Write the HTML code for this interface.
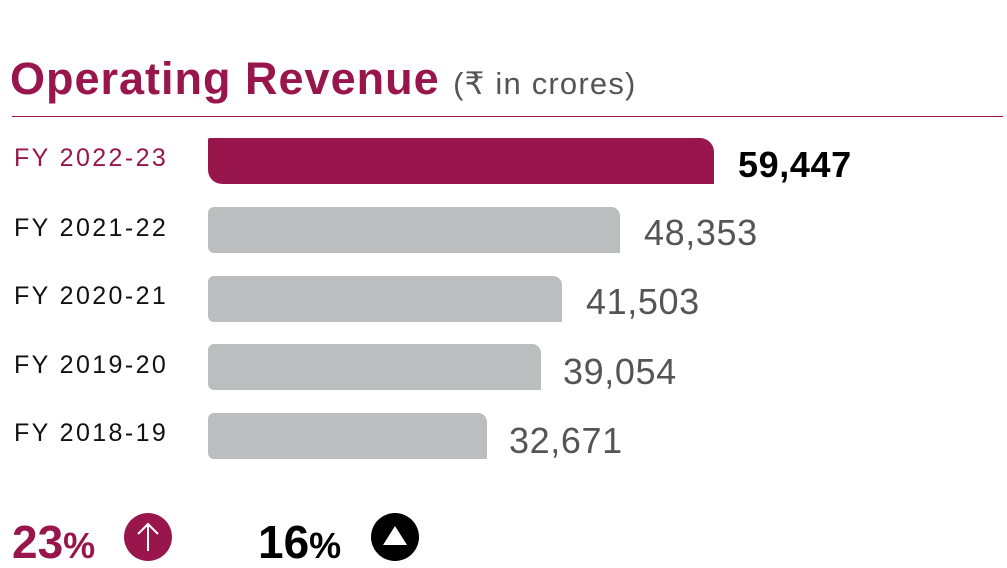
<!DOCTYPE html>
<html><head><meta charset="utf-8"><style>
body{margin:0;width:1007px;height:563px;background:#fff;overflow:hidden;position:relative;font-family:"Liberation Sans",sans-serif}
.a{position:absolute;white-space:nowrap}
.bar{position:absolute;left:208px;height:46px;background:#bcbdbf;border-radius:6px 9px 0 6px}
.lab{position:absolute;left:14px;font-size:25px;color:#111;line-height:1;letter-spacing:2.4px}
.val{position:absolute;font-size:36px;color:#555;line-height:1;letter-spacing:0.6px}
</style></head><body>
<div class="a" style="left:10px;top:56px;font-size:45px;font-weight:bold;color:#98164b;line-height:1;letter-spacing:1px">Operating Revenue <span style="font-size:31px;font-weight:normal;color:#555;letter-spacing:1.2px">(₹ in crores)</span></div>
<div class="a" style="left:12px;top:116px;width:991px;height:1px;background:#98164b"></div>

<div class="bar" style="top:138px;width:506px;background:#98164b;border-radius:2px 14px 0 14px"></div>
<div class="bar" style="top:207px;width:412px"></div>
<div class="bar" style="top:276px;width:354px"></div>
<div class="bar" style="top:344px;width:333px"></div>
<div class="bar" style="top:413px;width:279px"></div>

<div class="lab" style="top:146px;color:#98164b">FY 2022-23</div>
<div class="lab" style="top:216px">FY 2021-22</div>
<div class="lab" style="top:284px">FY 2020-21</div>
<div class="lab" style="top:353px">FY 2019-20</div>
<div class="lab" style="top:421px">FY 2018-19</div>

<div class="val" style="left:738px;top:147px;font-weight:bold;color:#000">59,447</div>
<div class="val" style="left:644px;top:215px">48,353</div>
<div class="val" style="left:586px;top:284px">41,503</div>
<div class="val" style="left:563px;top:354px">39,054</div>
<div class="val" style="left:509px;top:423px">32,671</div>

<div class="a" style="left:12px;top:519px;font-size:46px;font-weight:bold;color:#98164b;line-height:1">23<span style="font-size:36px">%</span></div>
<svg class="a" style="left:124px;top:513px" width="48" height="48"><circle cx="24" cy="24" r="24" fill="#98164b"/><path d="M24 38V11M14 21L24 11L34 21" stroke="#fff" stroke-width="2" fill="none"/></svg>
<div class="a" style="left:258px;top:519px;font-size:46px;font-weight:bold;color:#000;line-height:1">16<span style="font-size:36px">%</span></div>
<svg class="a" style="left:371px;top:513px" width="48" height="48"><circle cx="24" cy="24" r="24" fill="#000"/><path d="M24 13L36 32H12Z" fill="#fff"/></svg>
</body></html>
